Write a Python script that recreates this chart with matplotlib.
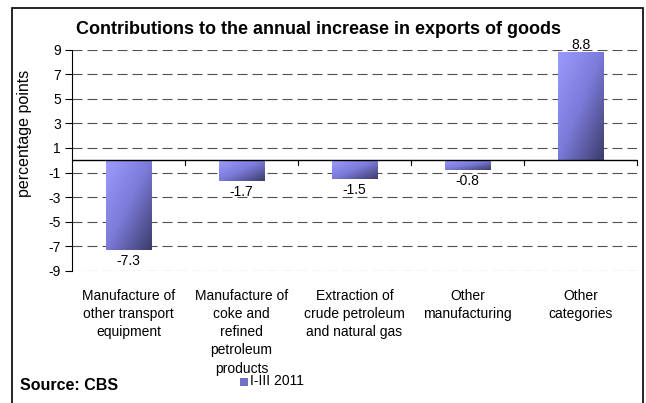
import numpy as np
import matplotlib.pyplot as plt
from matplotlib.patches import Rectangle
from matplotlib.colors import LinearSegmentedColormap

plt.rcParams['font.family'] = ['Liberation Sans', 'DejaVu Sans']

categories = ['Manufacture of\nother transport\nequipment',
              'Manufacture of\ncoke and\nrefined\npetroleum\nproducts',
              'Extraction of\ncrude petroleum\nand natural gas',
              'Other\nmanufacturing',
              'Other\ncategories']
values = [-7.3, -1.7, -1.5, -0.8, 8.8]
yticks = [9, 7, 5, 3, 1, -1, -3, -5, -7, -9]

fig = plt.figure(figsize=(6.46, 4.03), dpi=100)
ax = fig.add_axes([72/646, 1 - 271/403, 565/646, 221.5/403])

cmap = LinearSegmentedColormap.from_list('bar', ['#9c9cff', '#7a7ad8', '#3c3c6c'])
grad = np.add.outer(np.linspace(0, 1, 64), np.linspace(0, 1, 64)) / 2

x = np.arange(len(values))
bars = ax.bar(x, values, width=0.4, color='none', edgecolor='none', zorder=3)
for b in bars:
    x0, w = b.get_x(), b.get_width()
    y0, h = b.get_y(), b.get_height()
    top, bottom = max(y0, y0 + h), min(y0, y0 + h)
    im = ax.imshow(grad, cmap=cmap, extent=[x0, x0 + w, bottom, top],
                   origin='upper', aspect='auto', zorder=3)
    im.set_clip_path(b)

for xi, v in zip(x, values):
    off = 5 if v > 0 else -8
    ax.annotate(f'{v:.1f}', (xi, v), xytext=(0, off), textcoords='offset points',
                ha='center', va='center', fontsize=10, zorder=4)

ax.set_xlim(-0.5, len(values) - 0.5)
ax.set_ylim(-9, 9)
ax.set_yticks(yticks)
ax.set_yticklabels([str(t) for t in yticks], fontsize=10)
ax.yaxis.grid(True, linestyle=(0, (9, 4.5)), color='#505050', linewidth=0.8)
ax.set_axisbelow(True)
ax.tick_params(axis='y', direction='out', length=5, width=0.8, pad=3)
ax.set_ylabel('percentage points', fontsize=11.5)
ax.yaxis.set_label_coords(-0.07, 0.62)

# category labels sit under the plot area
ax.set_xticks([])
for xi, lab in zip(x, categories):
    ax.text(xi, -10.45, lab, ha='center', va='top', fontsize=10, linespacing=1.38)

# zero axis with boundary ticks
for s in ['top', 'right', 'bottom']:
    ax.spines[s].set_visible(False)
ax.spines['left'].set_linewidth(0.8)
ax.axhline(0, color='black', linewidth=1, zorder=4)
for b in np.arange(0.5, len(values) - 0.5 + 1, 1.0):
    ax.plot([b, b], [0, -0.4], color='black', linewidth=0.8, zorder=4, clip_on=False)

fig.text(319/646, 1 - 29/403, 'Contributions to the annual increase in exports of goods',
         ha='center', va='center', fontsize=13, fontweight='bold')
fig.text(20/646, 1 - 385/403, 'Source: CBS', ha='left', va='center',
         fontsize=11.5, fontweight='bold')

# legend
fig.patches.append(Rectangle((240/646, 1 - 386/403), 8/646, 8/403,
                             transform=fig.transFigure, facecolor='#7070c8',
                             edgecolor='none'))
fig.text(250/646, 1 - 381/403, 'I-III 2011', ha='left', va='center', fontsize=10)

# outer frame
fig.patches.append(Rectangle((12/646, -0.05), 631/646, 1.05 - 8/403,
                             transform=fig.transFigure, fill=False,
                             edgecolor='black', linewidth=1.2))

fig.savefig('out.png', dpi=100)
